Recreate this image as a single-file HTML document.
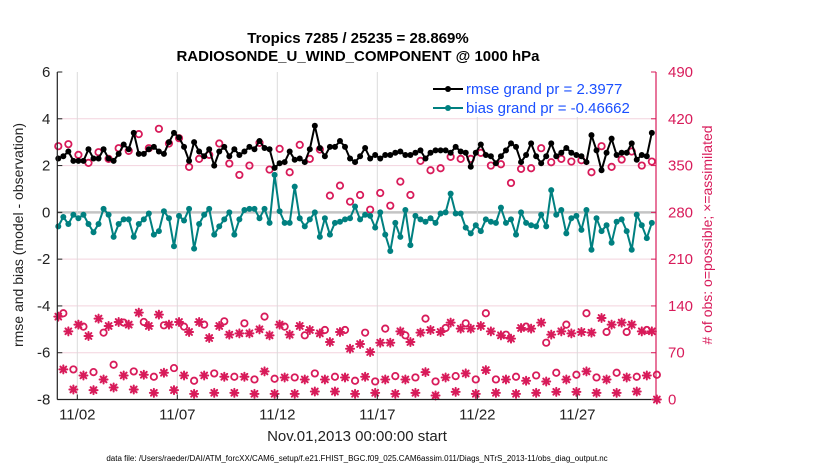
<!DOCTYPE html>
<html><head><meta charset="utf-8"><style>
html,body{margin:0;padding:0;background:#fff;}
svg{display:block;font-family:"Liberation Sans",Arial,sans-serif;}
</style></head><body>
<svg id="chart" width="830" height="470" viewBox="0 0 830 470">
<g font-weight="bold" font-size="15" text-anchor="middle" fill="#000">
<text x="358" y="43">Tropics 7285 / 25235 = 28.869%</text>
<text x="358" y="61">RADIOSONDE_U_WIND_COMPONENT @ 1000 hPa</text>
</g>
<g id="grid"></g>
<g id="marks"></g>
<rect x="400" y="72" width="256" height="45" fill="#fff"/>
<g font-size="15" fill="#1a4fff">
<g>
<line x1="433" y1="89" x2="463" y2="89" stroke="#000" stroke-width="2"/>
<circle cx="448" cy="89" r="3" fill="#000"/>
<text x="466" y="94" fill="#1a4fff">rmse grand pr = 2.3977</text></g>
<g>
<line x1="433" y1="108" x2="463" y2="108" stroke="#008080" stroke-width="2"/>
<circle cx="448" cy="108" r="3" fill="#008080"/>
<text x="466" y="113" fill="#1a4fff">bias grand pr = -0.46662</text></g>
</g>
<g id="axes"></g>
<text x="0" y="0" transform="translate(23,235) rotate(-90)" text-anchor="middle" font-size="14" fill="#222">rmse and bias (model - observation)</text>
<text x="0" y="0" transform="translate(712,235) rotate(-90)" text-anchor="middle" font-size="14" fill="#d81b5a"># of obs: o=possible; ×=assimilated</text>
<text x="357" y="441" text-anchor="middle" font-size="15" fill="#222">Nov.01,2013 00:00:00 start</text>
<text x="357" y="461" text-anchor="middle" font-size="8" fill="#000">data file: /Users/raeder/DAI/ATM_forcXX/CAM6_setup/f.e21.FHIST_BGC.f09_025.CAM6assim.011/Diags_NTrS_2013-11/obs_diag_output.nc</text>
</svg>
<script>
const xTickLabels = ["11/02","11/07","11/12","11/17","11/22","11/27"];
const xTickDays = [1,6,11,16,21,26];
const leftTicks = [6,4,2,0,-2,-4,-6,-8];
const rightTicks = [0,70,140,210,280,350,420,490];
const rmse = [2.3,2.4,2.6,2.2,2.2,2.2,2.7,2.3,2.3,2.7,2.3,2.2,2.5,2.9,2.7,3.4,2.5,2.5,2.7,2.8,2.6,2.5,3.0,3.4,3.2,2.8,2.2,3.0,2.6,2.4,2.7,2.0,
2.6,2.8,2.4,2.7,2.45,2.6,2.8,2.7,3.05,2.75,2.7,1.9,2.1,2.15,2.6,2.25,2.3,2.15,2.7,3.7,2.75,2.4,2.8,2.8,3.05,2.8,2.3,2.15,2.4,2.75,2.3,
2.45,2.3,2.45,2.45,2.55,2.6,2.45,2.45,2.55,2.65,2.3,2.55,2.65,2.65,2.65,2.55,2.8,2.6,2.55,1.95,2.55,2.9,2.45,2.4,2.1,2.4,2.65,2.95,2.8,
2.15,2.45,2.95,2.4,2.1,2.4,2.95,2.4,2.55,2.75,2.55,2.45,2.4,2.15,3.3,2.65,1.8,2.55,3.15,2.45,2.55,2.55,2.95,2.25,2.45,2.4,3.4];
const bias = [-0.6,-0.2,-0.5,-0.1,-0.25,-0.1,-0.5,-0.85,-0.5,0.15,-0.1,-1.05,-0.5,-0.3,-0.3,-1.05,-0.5,-0.3,-0.05,-0.95,-0.8,0.05,-0.25,-1.45,-0.15,-0.35,0.15,-1.55,-0.5,-0.1,0.15,-0.95,
-0.6,-0.3,0,-0.95,-0.3,0.1,0.15,0.15,-0.25,0.15,-0.45,1.6,0.05,-0.45,-0.45,1.1,-0.25,-0.6,-0.3,0,-1.05,-0.25,-0.95,-0.45,-0.4,-0.3,-0.25,0.25,-0.3,-0.1,-0.15,
-0.65,0,-0.95,-1.65,-0.45,-1.05,0.1,-1.4,-0.15,-0.3,-0.4,-0.25,-0.45,-0.05,0,0.8,-0.05,-0.05,-0.65,-0.9,-0.55,-0.8,-0.3,-0.4,-0.45,0.2,-0.45,-0.3,-0.95,
0,-0.45,-0.55,-0.6,-0.1,-0.6,0.95,-0.1,0.1,-0.9,-0.25,-0.15,-0.75,0.1,-1.6,-0.25,-0.8,-0.55,-1.3,-0.4,-0.3,-0.8,-1.6,-0.1,-0.55,-1.1,-0.45];
// obs counts grouped by synoptic slot (00Z/12Z slots, 06Z slots, 18Z slots)
const possibleMain = [379,382,366,354,370,360,376,372,397,376,405,383,391,348,360,366,
383,353,336,350,384,344,375,340,381,360,374,305,320,296,306,284,
309,290,326,306,357,343,346,363,360,360,369,350,352,324,345,
346,376,355,360,356,358,340,379,348,359,371,350,356];
const assimMain = [124,102,112,95,121,110,116,112,130,110,127,112,116,101,116,92,
110,97,99,99,105,96,112,97,110,104,99,86,101,76,83,71,
85,85,102,86,100,104,101,115,106,106,110,102,96,91,107,
106,115,97,102,99,101,100,122,112,115,112,102,102];
const possibleA = [129,109,100,115,116,111,109,112,117,114,124,109,96,104,104,100,106,96,121,107,114,129,97,109,85,112,129,101,101,104];
const assimA = [45,36,30,36,37,40,36,36,34,34,42,33,30,30,33,34,30,30,41,33,39,44,30,28,27,30,42,30,33,36];
const possibleB = [45,41,52,42,34,47,28,39,34,30,31,33,39,34,28,27,35,33,27,35,30,30,34,36,40,37,33,40,34,37];
const assimB = [15,14,18,15,10,14,8.5,10,10,8.5,8.5,8.5,12,12,8.5,10,8.5,10,6,11.5,8.5,10,8.5,10,11.5,11.5,10,10,12,0];

const X0=57.3, X1=656, Y0=72, Y1=399.5;
const xScale = d => X0 + d*20;
const yL = v => Y0 + (6 - v)*(Y1-Y0)/14;
const yR = v => Y1 - v*(Y1-Y0)/490;
const tOf = i => 0.05 + i*0.2515;
const NS='http://www.w3.org/2000/svg';
function mk(tag, attrs, parent){const e=document.createElementNS(NS,tag);for(const k in attrs)e.setAttribute(k,attrs[k]);parent.appendChild(e);return e;}
const grid=document.getElementById('grid'), marks=document.getElementById('marks'), axes=document.getElementById('axes');
const MAG='#d81b5a';

leftTicks.forEach(v=>{ if(v===6||v===-8) return;
  const l=mk('line',{x1:X0,x2:X1,y1:yL(v),y2:yL(v),stroke:v===0?'#c4c4c4':'#f3d3de','stroke-width':v===0?2.5:1},grid);
  
  
});
xTickDays.forEach(d=>{
  const l=mk('line',{x1:xScale(d),x2:xScale(d),y1:Y0,y2:Y1,stroke:'#dadada','stroke-width':1},grid);
  
  
});

function circ(x,y){const c=mk('circle',{cx:x,cy:y,r:3.2,fill:'none',stroke:MAG,'stroke-width':1.8},marks);
  
  }
function star(x,y){const g=mk('g',{stroke:MAG,'stroke-width':2,'stroke-linecap':'round'},marks);
  
  
  const r=4,q=2.9;
  mk('line',{x1:x-r,y1:y,x2:x+r,y2:y},g);mk('line',{x1:x,y1:y-r,x2:x,y2:y+r},g);
  mk('line',{x1:x-q,y1:y-q,x2:x+q,y2:y+q},g);mk('line',{x1:x-q,y1:y+q,x2:x+q,y2:y-q},g);}
possibleMain.forEach((v,k)=>circ(xScale(tOf(2*k)),yR(v)));
possibleA.forEach((v,k)=>circ(xScale(tOf(4*k+1)),yR(v)));
possibleB.forEach((v,k)=>circ(xScale(tOf(4*k+3)),yR(v)));
assimMain.forEach((v,k)=>star(xScale(tOf(2*k)),yR(v)));
assimA.forEach((v,k)=>star(xScale(tOf(4*k+1)),yR(v)));
assimB.forEach((v,k)=>star(xScale(tOf(4*k+3)),yR(v)));

function series(arr,color,name){
  const pts=arr.map((v,i)=>xScale(tOf(i)).toFixed(1)+','+yL(v).toFixed(1)).join(' ');
  const p=mk('polyline',{points:pts,fill:'none',stroke:color,'stroke-width':2,'stroke-linejoin':'round'},marks);
  
  
  arr.forEach((v,i)=>{const c=mk('circle',{cx:xScale(tOf(i)),cy:yL(v),r:3,fill:color},marks);
    
    });
}
series(bias,'#008080','bias');
series(rmse,'#000','rmse');

const lax=mk('line',{x1:X0,x2:X0,y1:Y0,y2:Y1,stroke:'#222','stroke-width':1.2},axes);


const bax=mk('line',{x1:X0,x2:X1,y1:Y1,y2:Y1,stroke:'#222','stroke-width':1.2},axes);


const rax=mk('line',{x1:X1,x2:X1,y1:Y0,y2:Y1,stroke:MAG,'stroke-width':1.2},axes);


leftTicks.forEach(v=>{
  mk('line',{x1:X0,x2:X0+5,y1:yL(v),y2:yL(v),stroke:'#222'},axes);
  const t=mk('text',{x:X0-7,y:yL(v)+5,'text-anchor':'end','font-size':15,fill:'#222'},axes);
  t.textContent=v;
  
  
});
rightTicks.forEach(v=>{
  mk('line',{x1:X1-5,x2:X1,y1:yR(v),y2:yR(v),stroke:MAG},axes);
  const t=mk('text',{x:X1+12,y:yR(v)+5,'text-anchor':'start','font-size':15,fill:MAG},axes);
  t.textContent=v;
  
  
});
xTickDays.forEach((d,i)=>{
  mk('line',{x1:xScale(d),x2:xScale(d),y1:Y1,y2:Y1-5,stroke:'#222'},axes);
  const t=mk('text',{x:xScale(d),y:Y1+20,'text-anchor':'middle','font-size':15,fill:'#222'},axes);
  t.textContent=xTickLabels[i];
  
  
});
</script>
</body></html>
